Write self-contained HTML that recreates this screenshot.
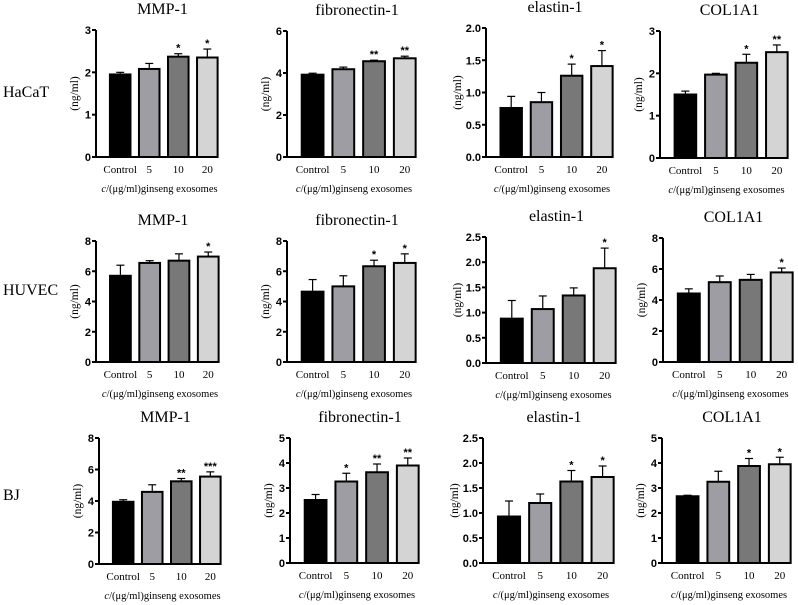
<!DOCTYPE html>
<html><head><meta charset="utf-8"><style>
body{margin:0;background:#fff;}
svg{display:block}
.tl{font-family:"Liberation Sans",sans-serif;font-weight:bold;font-size:11px;}
.xl{font-family:"Liberation Serif",serif;font-size:11px;}
.yt{font-family:"Liberation Serif",serif;font-size:11.5px;}
.xt{font-family:"Liberation Serif",serif;font-size:10.5px;}
.tt{font-family:"Liberation Serif",serif;font-size:16px;}
.rl{font-family:"Liberation Serif",serif;font-size:16px;}
</style></head><body>
<svg id="fig" width="798" height="605" viewBox="0 0 798 605"></svg>
<script>
const categories = ["Control","5","10","20"];
const genes = ["MMP-1","fibronectin-1","elastin-1","COL1A1"];
const cellLines = ["HaCaT","HUVEC","BJ"];
// means
const hacatMeans = [[1.95,2.08,2.37,2.35],[3.92,4.18,4.56,4.70],[0.76,0.85,1.26,1.41],[1.50,1.97,2.25,2.50]];
const huvecMeans = [[5.70,6.55,6.70,6.97],[4.65,5.00,6.33,6.55],[0.88,1.07,1.34,1.88],[4.42,5.15,5.30,5.78]];
const bjMeans = [[3.95,4.58,5.25,5.55],[2.52,3.26,3.63,3.90],[0.93,1.20,1.63,1.72],[2.67,3.25,3.88,3.95]];
// errors (SD)
const hacatErr = [[0.05,0.13,0.07,0.20],[0.07,0.10,0.05,0.10],[0.18,0.15,0.18,0.24],[0.08,0.03,0.20,0.17]];
const huvecErr = [[0.70,0.15,0.45,0.30],[0.80,0.70,0.40,0.60],[0.36,0.26,0.15,0.40],[0.30,0.40,0.35,0.28]];
const bjErr = [[0.13,0.45,0.18,0.30],[0.22,0.33,0.33,0.30],[0.31,0.18,0.22,0.22],[0.04,0.42,0.30,0.28]];
// significance
const hacatSig = [["","","*","*"],["","","**","**"],["","","*","*"],["","","*","**"]];
const huvecSig = [["","","","*"],["","","*","*"],["","","","*"],["","","","*"]];
const bjSig = [["","","**","***"],["","*","**","**"],["","","*","*"],["","","*","*"]];
// y tick labels
const hacatTicks = [["0","1","2","3"],["0","2","4","6"],["0.0","0.5","1.0","1.5","2.0"],["0","1","2","3"]];
const huvecTicks = [["0","2","4","6","8"],["0","2","4","6","8"],["0.0","0.5","1.0","1.5","2.0","2.5"],["0","2","4","6","8"]];
const bjTicks = [["0","2","4","6","8"],["0","1","2","3","4","5"],["0.0","0.5","1.0","1.5","2.0","2.5"],["0","1","2","3","4","5"]];

const means=[hacatMeans,huvecMeans,bjMeans], errs=[hacatErr,huvecErr,bjErr], sigs=[hacatSig,huvecSig,bjSig], ticks=[hacatTicks,huvecTicks,bjTicks];
// layout: [axisX, top, bottom, right]
const geom=[
 [[96,30,157,217],[287,31,157,415],[486,28,157,612],[660,31,158,787]],
 [[96,241,362,218],[287,241,362,415],[486,237,363,615],[663,238,362,792]],
 [[99,438,564,220],[290,438,563,418],[483,438,563,613],[662,438,563,790]]];
const rowLabelY=[97,295,500];
const fills=["#000","#9d9da3","#787878","#d4d4d4"];
const NS="http://www.w3.org/2000/svg";
const svg=document.getElementById('fig');
function mk(tag,attrs,parent,text){const e=document.createElementNS(NS,tag);for(const k in attrs)e.setAttribute(k,attrs[k]);if(text!==undefined)e.textContent=text;(parent||svg).appendChild(e);return e;}
for(let r=0;r<3;r++){
  const rl=mk('text',{x:3,y:rowLabelY[r],class:'rl'},svg,cellLines[r]);
  
  
  for(let g=0;g<4;g++){
    const [ax,top,bot,right]=geom[r][g];
    const W=right-ax;
    const tk=ticks[r][g]; const ymax=parseFloat(tk[tk.length-1]);
    const dec=tk[0].length>1;
    const y=v=>bot-(v/ymax)*(bot-top);
    const grp=mk('g',{});
    
    
    const t=mk('text',{x:ax+W/2+6,y:top-16,'text-anchor':'middle',class:'tt'},grp,genes[g]);
    
    
    const yl=mk('text',{transform:`translate(${ax-(dec?25:18)},${(top+bot)/2}) rotate(-90)`,'text-anchor':'middle',class:'yt'},grp,'(ng/ml)');
    
    
    for(let i=0;i<4;i++){
      const cx=ax+W*0.2+i*W*0.24, bw=W*0.17;
      const v=means[r][g][i], e=errs[r][g][i];
      const eb=mk('line',{x1:cx,x2:cx,y1:y(v),y2:y(v+e),stroke:'#000','stroke-width':1.2},grp);
      
      
      mk('line',{x1:cx-4,x2:cx+4,y1:y(v+e),y2:y(v+e),stroke:'#000','stroke-width':1.2},grp);
      const b=mk('rect',{x:cx-bw/2,y:y(v),width:bw,height:bot-y(v),fill:fills[i],stroke:'#000','stroke-width':2},grp);
      
      
      if(sigs[r][g][i]){
        const s=mk('text',{x:cx,y:y(v+e)-2,'text-anchor':'middle',class:'tl'},grp,sigs[r][g][i]);
        
        
      }
      const xl=mk('text',{x:cx,y:bot+16,'text-anchor':'middle',class:'xl'},grp,categories[i]);
      
      
    }
    mk('line',{x1:ax,x2:ax,y1:top,y2:bot,stroke:'#000','stroke-width':2},grp);
    mk('line',{x1:ax,x2:right,y1:bot,y2:bot,stroke:'#000','stroke-width':2},grp);
    tk.forEach(l=>{const yy=y(parseFloat(l));
      mk('line',{x1:ax-4,x2:ax,y1:yy,y2:yy,stroke:'#000','stroke-width':2},grp);
      const tl=mk('text',{x:ax-5,y:yy+4,'text-anchor':'end',class:'tl'},grp,l);
      
      
    });
    const xt=mk('text',{x:ax+W/2+3,y:bot+35,'text-anchor':'middle',class:'xt'},grp);
    
    
    mk('tspan',{'font-style':'italic'},xt,'c');
    mk('tspan',{},xt,'/(μg/ml)ginseng exosomes');
  }
}
</script>
</body></html>
